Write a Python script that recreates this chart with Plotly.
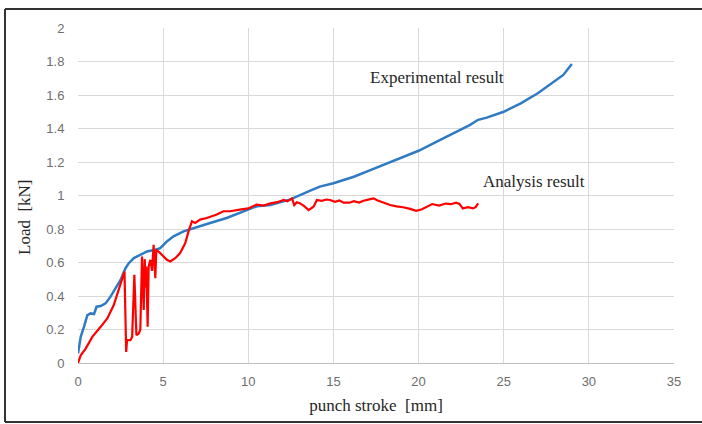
import plotly.graph_objects as go

# Experimental result (blue)
exp_x = [0, 0.16, 0.35, 0.55, 0.74, 0.94, 1.09, 1.33, 1.62, 1.91, 2.2, 2.5, 2.79, 2.98,
         3.28, 3.67, 4.05, 4.54, 4.83, 5.22, 5.61, 6.2, 6.78, 7.76, 8.73, 9.7, 10.5,
         11.3, 12.47, 13.64, 14.2, 15.0, 16.2, 17.17, 18.15, 19.1, 20.0, 21.07, 22.0,
         23.0, 23.5, 24.0, 25.0, 26.0, 27.0, 28.0, 28.5, 29.0]
exp_y = [0.056, 0.156, 0.216, 0.286, 0.296, 0.292, 0.336, 0.34, 0.356, 0.396, 0.446,
         0.496, 0.566, 0.596, 0.626, 0.646, 0.666, 0.676, 0.686, 0.726, 0.756, 0.786,
         0.806, 0.836, 0.866, 0.906, 0.936, 0.943, 0.977, 1.029, 1.053, 1.073, 1.112,
         1.152, 1.192, 1.232, 1.267, 1.321, 1.37, 1.42, 1.452, 1.465, 1.50, 1.55, 1.61,
         1.68, 1.72, 1.785]

# Analysis result (red)
ana_x = [0, 0.16, 0.45, 0.84, 1.33, 1.72, 2.1, 2.4, 2.59, 2.73, 2.83, 2.88, 3.08, 3.18,
         3.31, 3.43, 3.57, 3.66, 3.76, 3.81, 3.86, 3.92, 3.97, 4.01, 4.09, 4.15, 4.25,
         4.35, 4.44, 4.54, 4.6, 4.83, 5.22, 5.42, 5.71, 6.0, 6.3, 6.49, 6.69, 6.88,
         7.17, 7.56, 8.15, 8.54, 8.93, 9.5, 10.0, 10.5, 10.9, 11.3, 11.7, 12.08, 12.3,
         12.57, 12.7, 12.85, 13.05, 13.3, 13.54, 13.83, 14.03, 14.3, 14.6, 14.8, 15.1,
         15.35, 15.6, 15.94, 16.2, 16.5, 16.77, 17.1, 17.35, 17.6, 17.94, 18.33, 18.7,
         19.1, 19.5, 19.86, 20.2, 20.5, 20.8, 21.2, 21.6, 21.9, 22.2, 22.4, 22.6, 22.9,
         23.2, 23.35, 23.5]
ana_y = [0.0, 0.046, 0.086, 0.156, 0.216, 0.266, 0.346, 0.436, 0.496, 0.546, 0.066,
         0.136, 0.136, 0.156, 0.526, 0.166, 0.176, 0.2, 0.636, 0.42, 0.316, 0.62, 0.45,
         0.576, 0.216, 0.576, 0.616, 0.55, 0.706, 0.506, 0.676, 0.656, 0.616, 0.606,
         0.626, 0.656, 0.716, 0.786, 0.846, 0.836, 0.856, 0.866, 0.886, 0.906, 0.906,
         0.916, 0.923, 0.946, 0.94, 0.953, 0.96, 0.973, 0.965, 0.983, 0.943, 0.96,
         0.953, 0.935, 0.913, 0.933, 0.973, 0.968, 0.976, 0.973, 0.962, 0.97, 0.957,
         0.957, 0.966, 0.958, 0.969, 0.977, 0.983, 0.97, 0.957, 0.943, 0.935, 0.93,
         0.92, 0.909, 0.918, 0.935, 0.949, 0.94, 0.952, 0.948, 0.957, 0.95, 0.923,
         0.93, 0.923, 0.93, 0.953]

x_ticks = [0, 5, 10, 15, 20, 25, 30, 35]
y_ticks = [0, 0.2, 0.4, 0.6, 0.8, 1, 1.2, 1.4, 1.6, 1.8, 2]

serif = "Liberation Serif, Times New Roman, serif"
sans = "Liberation Sans, Arial, sans-serif"

# plot-area pixel box
L, R, T, B = 78, 674, 28, 363
def px_to_paper_x(px):
    return (px - L) / (R - L)
def px_to_paper_y(py):
    return (B - py) / (B - T)
def px_to_data_x(px):
    return (px - L) / (R - L) * 35
def px_to_data_y(py):
    return (B - py) / (B - T) * 2

fig = go.Figure()
fig.add_trace(go.Scatter(x=exp_x, y=exp_y, mode="lines",
                         line=dict(color="#2E7BC4", width=2.5), showlegend=False))
fig.add_trace(go.Scatter(x=ana_x, y=ana_y, mode="lines",
                         line=dict(color="#FF0000", width=2.2), showlegend=False))

fig.update_layout(
    width=702, height=424,
    margin=dict(l=L, r=702 - R, t=T, b=424 - B),
    paper_bgcolor="white", plot_bgcolor="white",
    xaxis=dict(range=[0, 35], tickvals=x_ticks, ticktext=[str(v) for v in x_ticks],
               showgrid=True, gridcolor="#D9D9D9", gridwidth=1,
               showline=True, linecolor="#BFBFBF", linewidth=1,
               zeroline=False, ticks="outside", ticklen=6, tickcolor="white",
               tickfont=dict(family=sans, size=13, color="#6E6E6E"),
               title=dict(text="punch stroke  [mm]", standoff=11,
                          font=dict(family=serif, size=17, color="#262626"))),
    yaxis=dict(range=[0, 2], tickvals=y_ticks, ticktext=[f"{v:g}" for v in y_ticks],
               showgrid=True, gridcolor="#D9D9D9", gridwidth=1,
               showline=False, zeroline=False,
               ticks="outside", ticklen=10, tickcolor="white",
               tickfont=dict(family=sans, size=13, color="#6E6E6E")),
    annotations=[
        dict(text="Experimental result", x=px_to_data_x(368), y=px_to_data_y(77),
             xref="x", yref="y", showarrow=False, xanchor="left", yanchor="middle",
             font=dict(family=serif, size=17, color="#262626")),
        dict(text="Analysis result", x=px_to_data_x(481), y=px_to_data_y(181),
             xref="x", yref="y", showarrow=False, xanchor="left", yanchor="middle",
             font=dict(family=serif, size=17, color="#262626")),
        dict(text="Load  [kN]", x=px_to_paper_x(25), y=px_to_paper_y(217),
             xref="paper", yref="paper", showarrow=False, textangle=-90,
             xanchor="center", yanchor="middle",
             font=dict(family=serif, size=17, color="#262626")),
    ],
)

# outer frame: left, top and bottom edges
frame = dict(xref="paper", yref="paper", line=dict(color="#333333", width=2), layer="below")
fl, fr = px_to_paper_x(5), px_to_paper_x(702)
ft, fb = px_to_paper_y(9), px_to_paper_y(422)
fig.add_shape(type="line", x0=fl, x1=fr, y0=ft, y1=ft, **frame)
fig.add_shape(type="line", x0=fl, x1=fr, y0=fb, y1=fb, **frame)
fig.add_shape(type="line", x0=fl, x1=fl, y0=fb, y1=ft, **frame)

fig.write_html("out.html", config={"displayModeBar": False},
               post_script="document.body.style.margin='0';document.body.style.overflow='hidden';")
